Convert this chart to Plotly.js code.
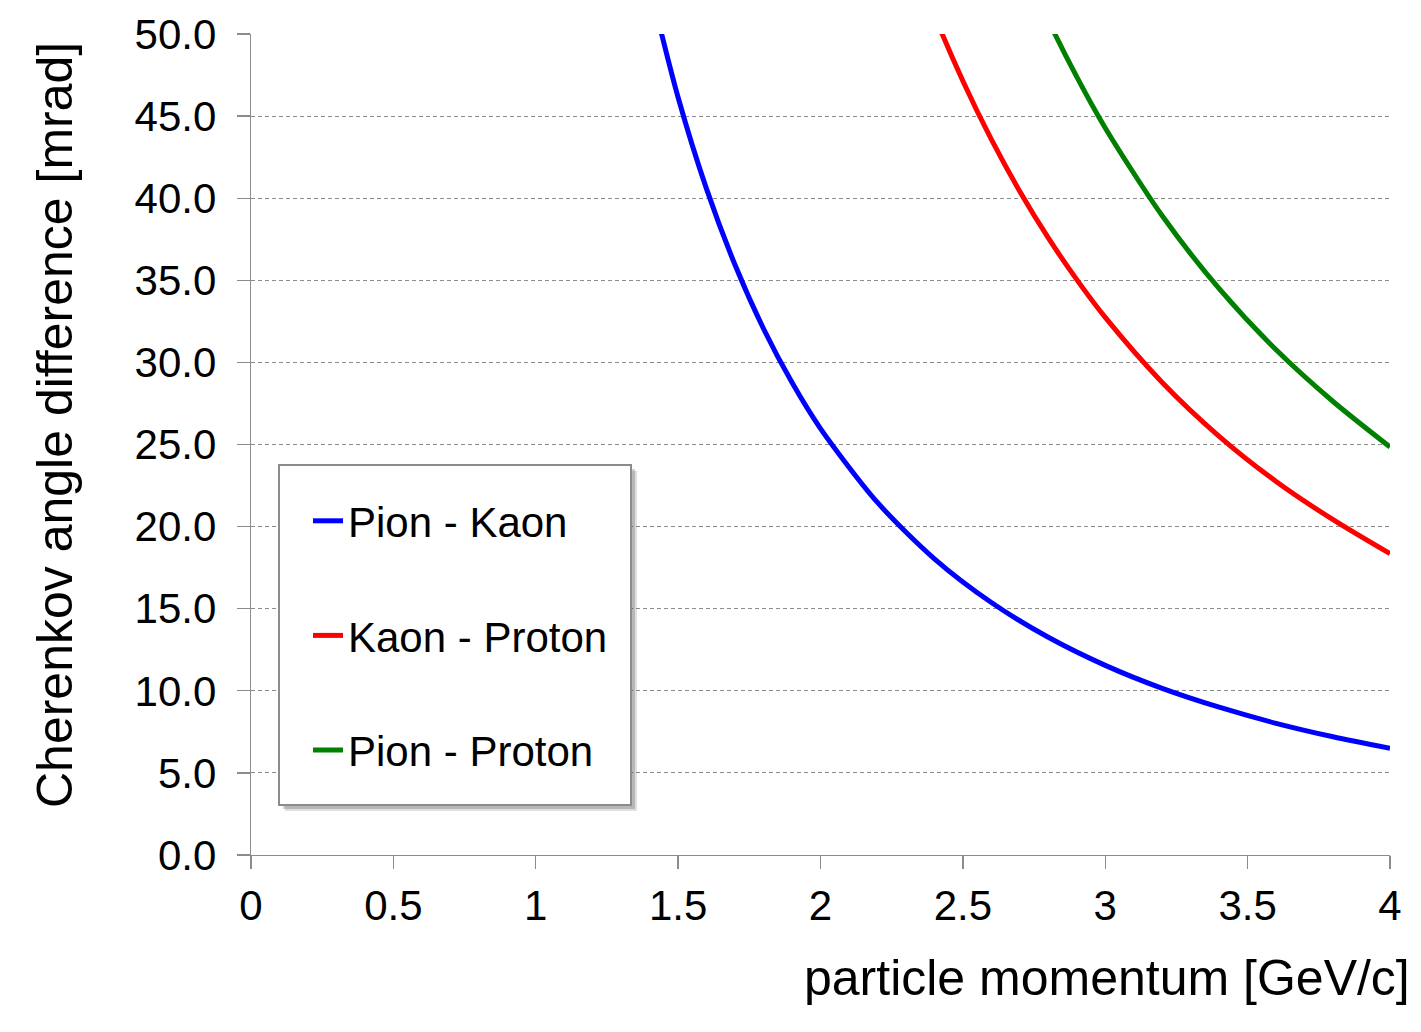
<!DOCTYPE html>
<html>
<head>
<meta charset="utf-8">
<script src="https://cdn.plot.ly/plotly-3.0.1.min.js"></script>
<style>
html, body { margin: 0; padding: 0; background: #fff; }
#chart { width: 1421px; height: 1032px; }
</style>
</head>
<body>
<div id="chart"></div>
<script>
// Cherenkov angle difference vs momentum

// momentum [GeV/c]
var pkP = [1.4, 1.5, 1.6, 1.7, 1.8, 1.9, 2.0, 2.2, 2.4, 2.6, 2.8, 3.0, 3.2, 3.4, 3.6, 3.8, 4.0]
var kpP = [2.3, 2.4, 2.5, 2.6, 2.7, 2.8, 2.9, 3.0, 3.2, 3.4, 3.6, 3.8, 4.0]
var ppP = [2.7, 2.8, 2.9, 3.0, 3.2, 3.4, 3.6, 3.8, 4.0]

// angle difference [mrad]
var pionKaon = [52.95, 46.13, 40.55, 35.93, 32.05, 28.77, 25.97, 21.47, 18.04, 15.38, 13.26, 11.55, 10.15, 9.00, 8.02, 7.20, 6.50]
var kaonProton = [55.71, 51.15, 47.14, 43.58, 40.41, 37.58, 35.04, 32.74, 28.78, 25.50, 22.75, 20.42, 18.35]
var pionProton = [54.66, 50.83, 47.39, 44.28, 38.93, 34.49, 30.77, 27.62, 24.85]

var names = ['Pion - Kaon', 'Kaon - Proton', 'Pion - Proton']
var colors = ['#0000ff', '#ff0000', '#008000']

var xTickVals = [0, 0.5, 1, 1.5, 2, 2.5, 3, 3.5, 4]
var xTickText = ['0', '0.5', '1', '1.5', '2', '2.5', '3', '3.5', '4']
var yTickVals = [0, 5, 10, 15, 20, 25, 30, 35, 40, 45, 50]
var yTickText = ['0.0', '5.0', '10.0', '15.0', '20.0', '25.0', '30.0', '35.0', '40.0', '45.0', '50.0']

var CHART = document.getElementById('chart')
var FONT = 'Liberation Sans, Arial, sans-serif'
var AXIS_GRAY = '#8c8c8c'

function curve(x, y, i){
    return {
        x: x,
        y: y,
        mode: 'lines',
        name: names[i],
        legendgroup: 'g' + i,
        line: { color: colors[i], width: 5, shape: 'spline', smoothing: 0.8 },
        hoverinfo: 'skip'
    }
}

var traces = [
    curve(pkP, pionKaon, 0),
    curve(kpP, kaonProton, 1),
    curve(ppP, pionProton, 2)
]

// plot area in pixels: left 251, right 1390, top 34, bottom 855
function px2x(p){ return (p - 251) / 1139 }
function px2y(p){ return (855 - p) / 821 }

var box = { l: 279, r: 631, t: 465, b: 805 }

var layout = {
    width: 1421,
    height: 1032,
    margin: { l: 251, r: 31, t: 34, b: 177 },
    paper_bgcolor: '#fff',
    plot_bgcolor: '#fff',
    font: { family: FONT, size: 42, color: '#000' },
    xaxis: {
        range: [0, 4],
        tickvals: xTickVals,
        ticktext: xTickText,
        showgrid: false,
        zeroline: false,
        showline: true,
        linecolor: AXIS_GRAY,
        linewidth: 1.3,
        ticks: 'outside',
        ticklen: 13,
        tickwidth: 1.3,
        tickcolor: AXIS_GRAY,
        tickfont: { family: FONT, size: 42, color: '#000' },
        ticklabelstandoff: 0,
        fixedrange: true
    },
    yaxis: {
        range: [0, 50],
        tickvals: yTickVals,
        ticktext: yTickText,
        showgrid: true,
        gridcolor: AXIS_GRAY,
        gridwidth: 1,
        griddash: '4px,3px',
        zeroline: false,
        showline: true,
        linecolor: AXIS_GRAY,
        linewidth: 1.3,
        ticks: 'outside',
        ticklen: 13,
        tickwidth: 1.3,
        tickcolor: AXIS_GRAY,
        tickfont: { family: FONT, size: 42, color: '#000' },
        ticklabelstandoff: 12,
        fixedrange: true
    },
    showlegend: true,
    legend: {
        x: px2x(308),
        y: px2y(487),
        xanchor: 'left',
        yanchor: 'top',
        bgcolor: 'rgba(0,0,0,0)',
        borderwidth: 0,
        tracegroupgap: 57,
        font: { family: FONT, size: 42, color: '#000' }
    },
    shapes: [
        // soft shadow
        { type: 'rect', xref: 'paper', yref: 'paper', layer: 'above',
          x0: px2x(box.l + 6), x1: px2x(box.r + 6), y0: px2y(box.b + 6), y1: px2y(box.t + 6),
          fillcolor: 'rgba(0,0,0,0.12)', line: { width: 0 } },
        { type: 'rect', xref: 'paper', yref: 'paper', layer: 'above',
          x0: px2x(box.l + 4), x1: px2x(box.r + 4), y0: px2y(box.b + 4), y1: px2y(box.t + 4),
          fillcolor: 'rgba(0,0,0,0.18)', line: { width: 0 } },
        // legend frame
        { type: 'rect', xref: 'paper', yref: 'paper', layer: 'above',
          x0: px2x(box.l), x1: px2x(box.r), y0: px2y(box.b), y1: px2y(box.t),
          fillcolor: '#fff', line: { color: AXIS_GRAY, width: 2 } }
    ],
    annotations: [
        { text: 'particle momentum [GeV/c]', xref: 'paper', yref: 'paper',
          x: px2x(1412), y: px2y(978), xanchor: 'right', yanchor: 'middle',
          showarrow: false, font: { family: FONT, size: 50, color: '#000' } },
        { text: 'Cherenkov angle difference [mrad]', xref: 'paper', yref: 'paper',
          x: px2x(55), y: px2y(425), xanchor: 'center', yanchor: 'middle',
          textangle: -90, showarrow: false, font: { family: FONT, size: 50, color: '#000' } }
    ]
}

Plotly.newPlot(CHART, traces, layout, { displayModeBar: false, staticPlot: true })
</script>
</body>
</html>
